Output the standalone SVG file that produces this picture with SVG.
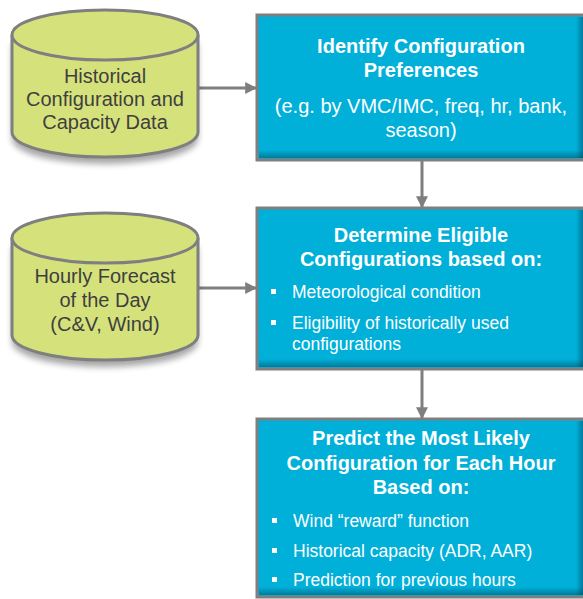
<svg xmlns="http://www.w3.org/2000/svg" width="583" height="599" viewBox="0 0 583 599">
  <defs>
    <filter id="blur" x="-20%" y="-20%" width="140%" height="140%">
      <feGaussianBlur stdDeviation="3"/>
    </filter>
    <linearGradient id="shadeB" x1="0" y1="0" x2="0" y2="1">
      <stop offset="0" stop-color="#003a50" stop-opacity="0"/>
      <stop offset="1" stop-color="#003a50" stop-opacity="0.45"/>
    </linearGradient>
    <linearGradient id="shadeR" x1="0" y1="0" x2="1" y2="0">
      <stop offset="0" stop-color="#003a50" stop-opacity="0"/>
      <stop offset="1" stop-color="#003a50" stop-opacity="0.45"/>
    </linearGradient>
    <marker id="arr" viewBox="0 0 10 10" refX="9" refY="5" markerWidth="4" markerHeight="4" orient="auto" markerUnits="strokeWidth">
      <path d="M0,0 L10,5 L0,10 Z" fill="#7f7f7f"/>
    </marker>
    <style>
      .cyl { fill: #d5e27c; stroke: #7f7f7f; stroke-width: 3; }
      .cylshadow { fill: #000; opacity: 0.35; filter: url(#blur); }
      .box { fill: #00b0d9; stroke: #7f7f7f; stroke-width: 3; }
      .conn { stroke: #7f7f7f; stroke-width: 3; fill: none; marker-end: url(#arr); }
      .ctext { font-family: "Liberation Sans", Arial, sans-serif; font-size: 20px; fill: #3f3f3f; text-anchor: middle; }
      .title { font-family: "Liberation Sans", Arial, sans-serif; font-size: 20px; font-weight: bold; fill: #ffffff; text-anchor: middle; }
      .sub { font-family: "Liberation Sans", Arial, sans-serif; font-size: 20px; fill: #ffffff; text-anchor: middle; }
      .bul { font-family: "Liberation Sans", Arial, sans-serif; font-size: 17.5px; fill: #ffffff; }
      .sq { fill: #ffffff; }
    </style>
  </defs>

  <g id="connectors">
    <line class="conn" x1="199" y1="88" x2="256" y2="88"/>
    <line class="conn" x1="199" y1="288" x2="256" y2="288"/>
    <line class="conn" x1="422" y1="160" x2="422" y2="207"/>
    <line class="conn" x1="422" y1="370" x2="422" y2="418"/>
  </g>

  <g id="historical-data">
    <path class="cylshadow" d="M12,40 L12,135 A93,25 0 0 0 198,135 L198,40 Z" transform="translate(0,4)"/>
    <path class="cyl" d="M12,35 L12,132 A93,25 0 0 0 198,132 L198,35"/>
    <ellipse class="cyl" cx="105" cy="35" rx="93" ry="25"/>
    <text class="ctext" x="105" y="83">Historical</text>
    <text class="ctext" x="105" y="106">Configuration and</text>
    <text class="ctext" x="105" y="129">Capacity Data</text>
  </g>

  <g id="hourly-forecast">
    <path class="cylshadow" d="M12,243 L12,338 A93,25 0 0 0 198,338 L198,243 Z" transform="translate(0,4)"/>
    <path class="cyl" d="M12,238 L12,335 A93,25 0 0 0 198,335 L198,238"/>
    <ellipse class="cyl" cx="105" cy="238" rx="93" ry="25"/>
    <text class="ctext" x="105" y="283">Hourly Forecast</text>
    <text class="ctext" x="105" y="307">of the Day</text>
    <text class="ctext" x="105" y="331">(C&amp;V, Wind)</text>
  </g>

  <g id="identify-preferences">
    <rect class="box" x="257" y="15" width="340" height="145"/>
    <rect x="259" y="150" width="324" height="8" fill="url(#shadeB)"/>
    <rect x="576" y="17" width="7" height="141" fill="url(#shadeR)"/>
    <text class="title" x="421" y="53">Identify Configuration</text>
    <text class="title" x="421" y="77">Preferences</text>
    <text class="sub" x="421" y="113">(e.g. by VMC/IMC, freq, hr, bank,</text>
    <text class="sub" x="421" y="137">season)</text>
  </g>

  <g id="determine-eligible">
    <rect class="box" x="257" y="208" width="340" height="161"/>
    <rect x="259" y="359" width="324" height="8" fill="url(#shadeB)"/>
    <rect x="576" y="210" width="7" height="157" fill="url(#shadeR)"/>
    <text class="title" x="421" y="242">Determine Eligible</text>
    <text class="title" x="421" y="266">Configurations based on:</text>
    <rect class="sq" x="271" y="289" width="5" height="5"/>
    <text class="bul" x="292" y="298">Meteorological condition</text>
    <rect class="sq" x="271" y="320" width="5" height="5"/>
    <text class="bul" x="292" y="329">Eligibility of historically used</text>
    <text class="bul" x="292" y="350">configurations</text>
  </g>

  <g id="predict-configuration">
    <rect class="box" x="257" y="419" width="340" height="178"/>
    <rect x="259" y="587" width="324" height="8" fill="url(#shadeB)"/>
    <rect x="576" y="421" width="7" height="174" fill="url(#shadeR)"/>
    <text class="title" x="421" y="445">Predict the Most Likely</text>
    <text class="title" x="421" y="470">Configuration for Each Hour</text>
    <text class="title" x="421" y="494">Based on:</text>
    <rect class="sq" x="272" y="518" width="5" height="5"/>
    <text class="bul" x="293" y="527">Wind “reward” function</text>
    <rect class="sq" x="272" y="548" width="5" height="5"/>
    <text class="bul" x="293" y="557">Historical capacity (ADR, AAR)</text>
    <rect class="sq" x="272" y="577" width="5" height="5"/>
    <text class="bul" x="293" y="586">Prediction for previous hours</text>
  </g>
</svg>
